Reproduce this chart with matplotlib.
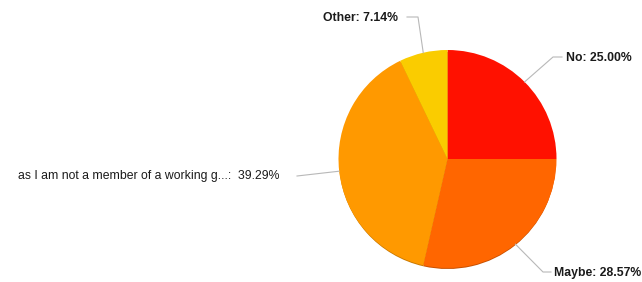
import matplotlib
matplotlib.use("Agg")
import matplotlib.pyplot as plt
import numpy as np

labels = ["No", "Maybe", "as I am not a member of a working g...", "Other"]
values = [25.00, 28.57, 39.29, 7.14]
colors = ["#FF1100", "#FF6600", "#FF9900", "#FACC00"]
shadow = ["#C80E00", "#C85000", "#C87800", "#C8A000"]

W, H = 642, 282
fig = plt.figure(figsize=(W / 100, H / 100), dpi=100)
ax = fig.add_axes([0, 0, 1, 1])

cx, cy, r = 447.5, H - 159, 109

# thin dark rim under the pie
ax.pie(values, colors=shadow, startangle=90, counterclock=False,
       center=(cx, cy - 1.5), radius=r - 0.5, frame=True,
       wedgeprops=dict(linewidth=0))
wedges, _ = ax.pie(values, colors=colors, startangle=90, counterclock=False,
                   center=(cx, cy), radius=r, frame=True,
                   wedgeprops=dict(linewidth=0))
ax.set_xlim(0, W)
ax.set_ylim(0, H)
ax.set_aspect("equal")
ax.axis("off")

# label layout: elbow point, line end, text anchor, ha, bold
layout = [
    ((553, H - 57), (562, H - 57), (566, H - 58), "left", True),
    ((543, H - 272), (551, H - 272), (554, H - 273), "left", True),
    ((297, H - 176), (297, H - 176), (280, H - 176), "right", False),
    ((418, H - 17), (407, H - 17), (398, H - 18), "right", True),
]

for w, lab, val, (elbow, end, tpos, ha, bold) in zip(wedges, labels, values, layout):
    ang = np.deg2rad((w.theta1 + w.theta2) / 2)
    px, py = cx + r * np.cos(ang), cy + r * np.sin(ang)
    ax.plot([px, elbow[0], end[0]], [py, elbow[1], end[1]],
            color="#b8b8b8", lw=0.8, zorder=1)
    sep = ":  " if not bold else ": "
    ax.text(tpos[0], tpos[1], f"{lab}{sep}{val:.2f}%", ha=ha, va="center",
            fontsize=8.8, family="Liberation Sans",
            fontweight="bold" if bold else "normal", color="#1a1a1a")

fig.savefig("out.png", dpi=100)
